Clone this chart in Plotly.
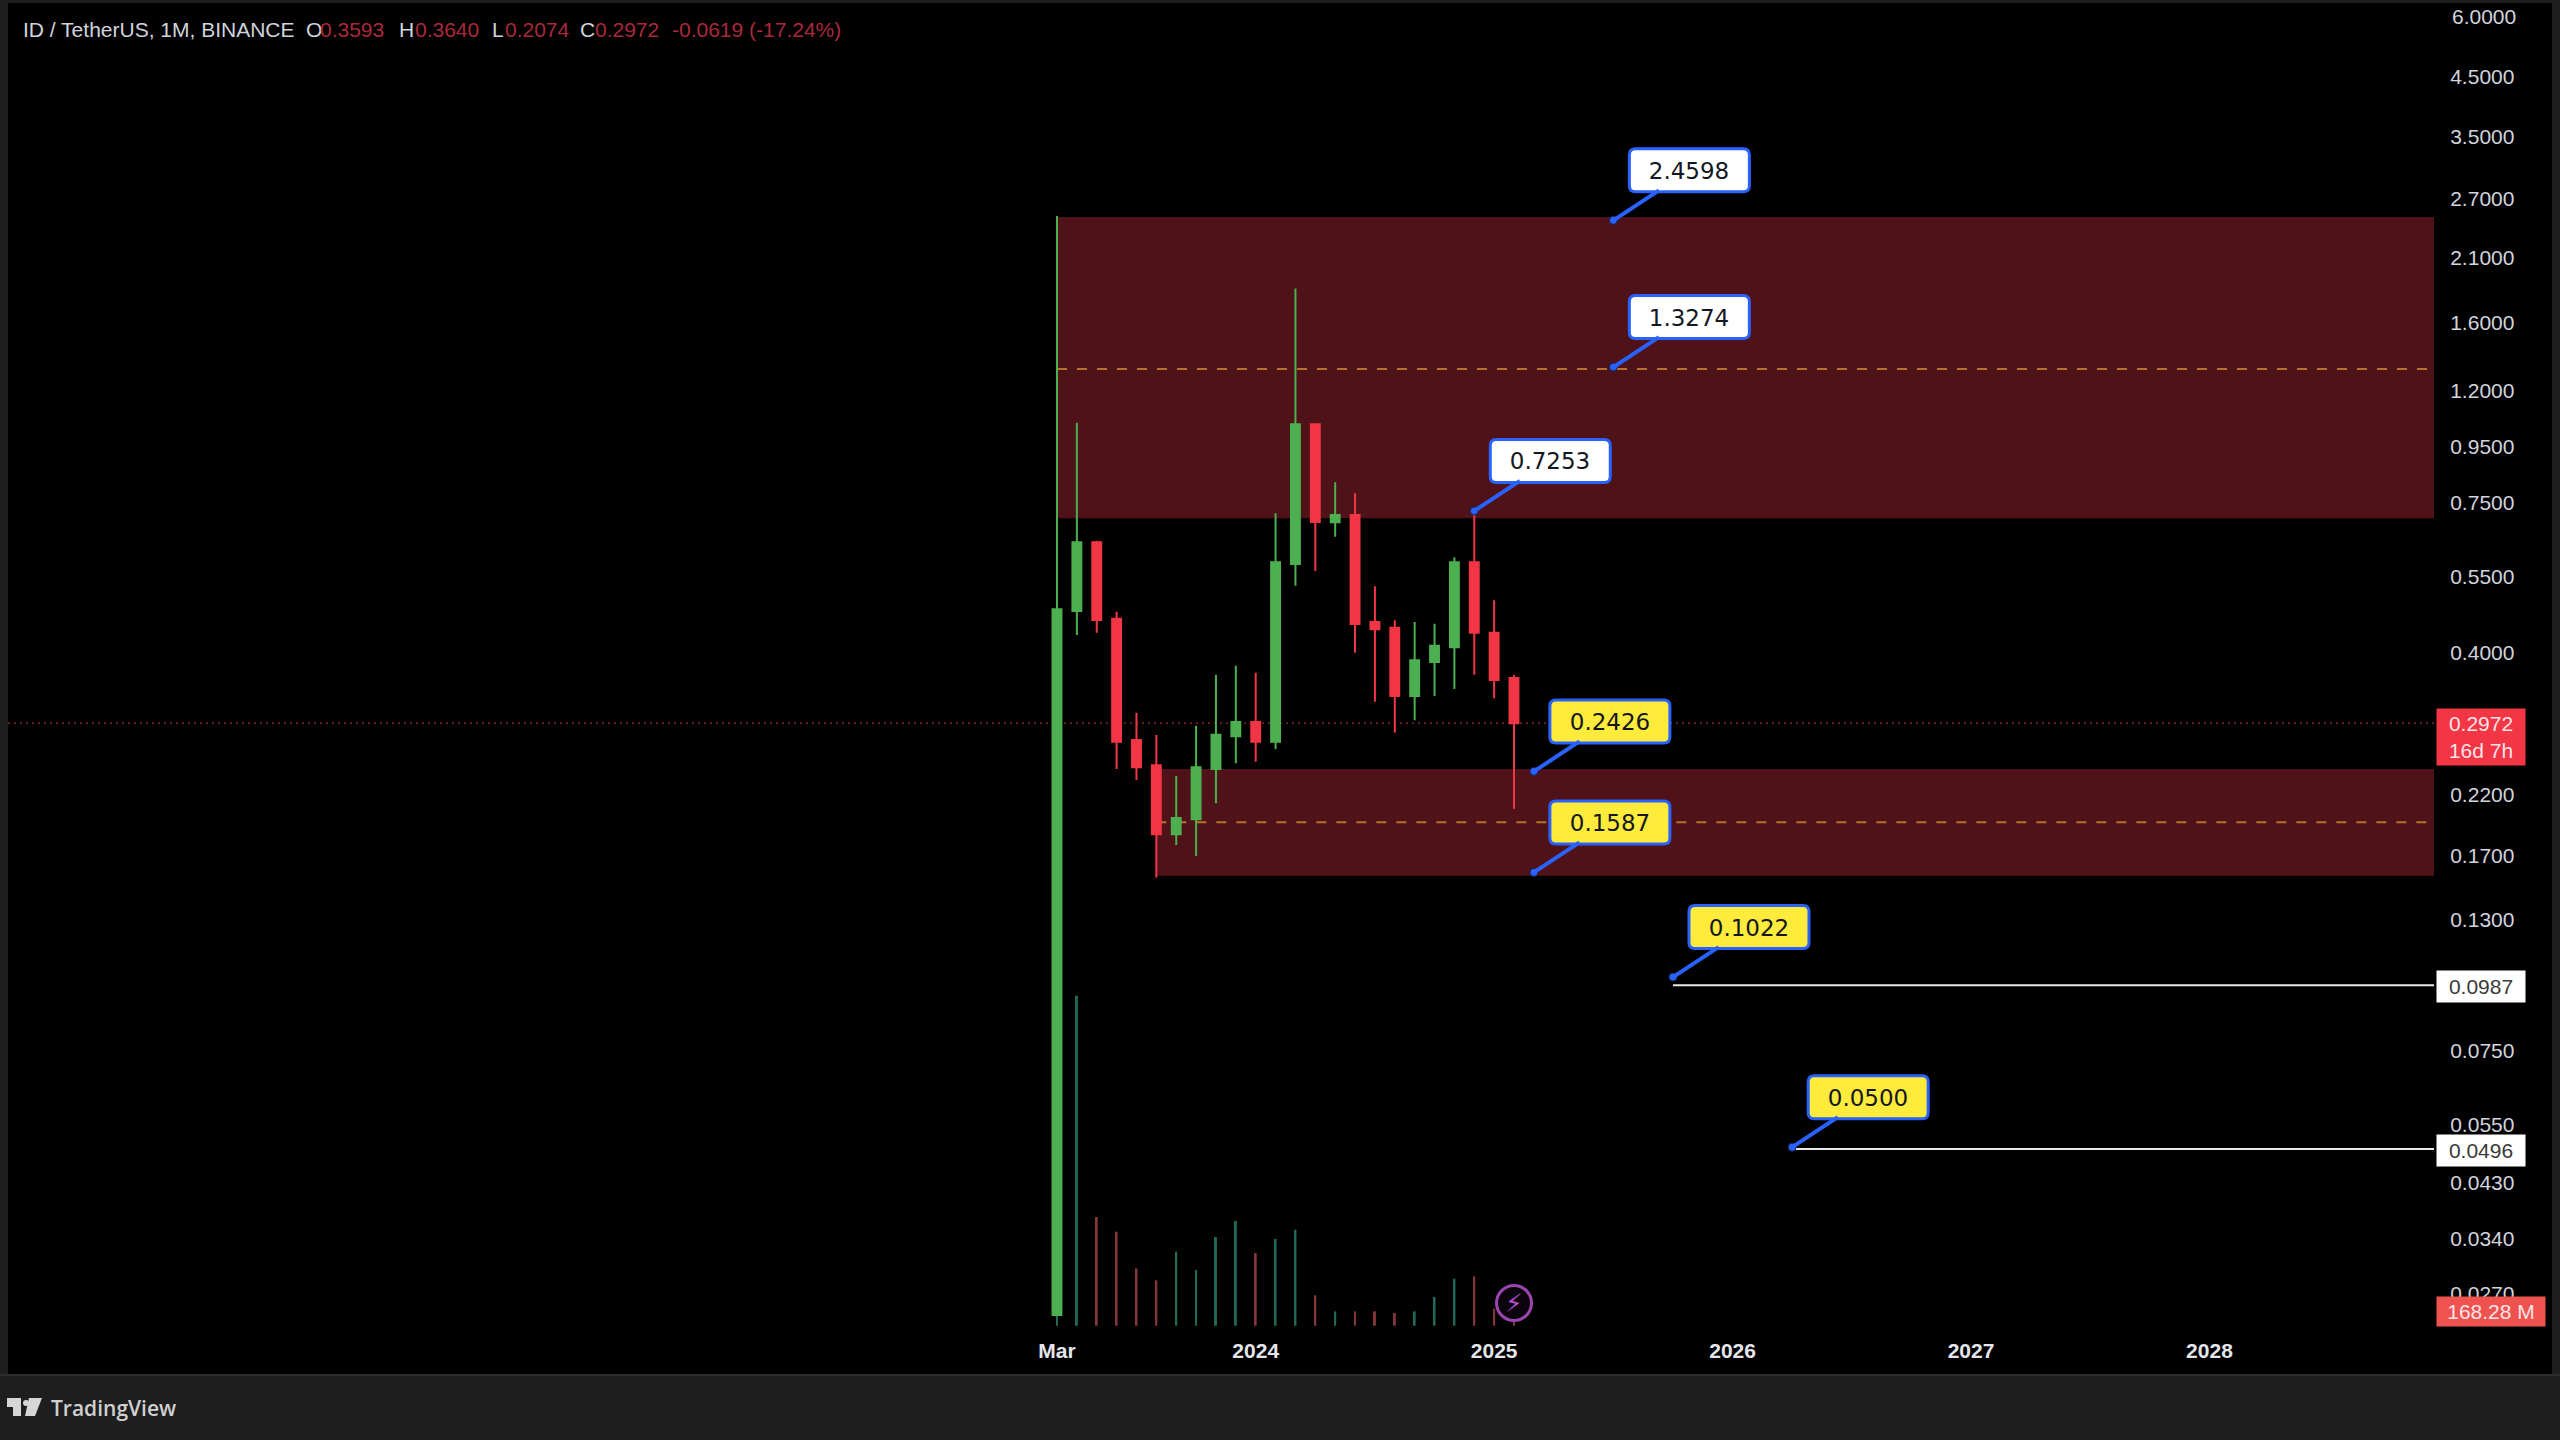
import math
import plotly.graph_objects as go

# ---------- data ----------
month_labels = ["2023-03","2023-04","2023-05","2023-06","2023-07","2023-08","2023-09","2023-10",
                "2023-11","2023-12","2024-01","2024-02","2024-03","2024-04","2024-05","2024-06",
                "2024-07","2024-08","2024-09","2024-10","2024-11","2024-12","2025-01","2025-02"]
opens  = [0.0247,0.4762,0.6356,0.4610,0.2768,0.2489,0.1863,0.1984,0.2451,0.2812,0.2986,0.2749,
          0.5802,1.0437,0.6914,0.7129,0.4547,0.4439,0.3331,0.3843,0.4088,0.5843,0.4346,0.3593]
highs  = [2.5050,1.0510,0.6399,0.4747,0.3105,0.2827,0.2380,0.2940,0.3643,0.3784,0.3674,0.7180,
          1.8480,1.0437,0.8179,0.7809,0.5283,0.4579,0.4547,0.4514,0.5967,0.7253,0.4981,0.3640]
lows   = [0.0247,0.4305,0.4346,0.2451,0.2340,0.1552,0.1780,0.1700,0.2122,0.2510,0.2527,0.2666,
          0.5296,0.5633,0.6507,0.3996,0.3252,0.2855,0.3008,0.3331,0.3431,0.3643,0.3299,0.2074]
closes = [0.4796,0.6356,0.4585,0.2749,0.2468,0.1863,0.1995,0.2468,0.2831,0.2986,0.2749,0.5843,
          1.0437,0.6922,0.7129,0.4508,0.4409,0.3331,0.3870,0.4115,0.5843,0.4346,0.3563,0.2972]
volumes_m = [15000,9900,3260,2820,1720,1360,2220,1670,2660,3140,2180,2600,
             2880,910,430,430,430,380,430,860,1410,1480,510,168.28]

price_ticks = [4.5,3.5,2.7,2.1,1.6,1.2,0.95,0.75,0.55,0.4,0.22,0.17,0.13,0.075,0.055,0.043,0.034,0.027]
top_tick_text = "6.0000"
time_tick_idx = [0,10,22,34,46,58]
time_tick_text = ["Mar","2024","2025","2026","2027","2028"]

zone_upper = (0.703, 2.4947)
zone_lower = (0.1565, 0.2451)
zone_upper_start, zone_lower_start = 0, 5
mid_upper, mid_lower = 1.3168, 0.196
level_upper = 0.0987
level_lower = 0.0496
level_upper_start, level_lower_start = 31, 37
last_price = 0.2972
last_volume_label = "168.28 M"

callout_text = ["2.4598","1.3274","0.7253","0.2426","0.1587","0.1022","0.0500"]
callout_price = [2.4598,1.3274,0.7253,0.2426,0.1587,0.1022,0.0500]
callout_idx = [28,28,21,24,24,31,37]
callout_bg = ["#ffffff","#ffffff","#ffffff","#ffeb3b","#ffeb3b","#ffeb3b","#ffeb3b"]

header_text = ["ID / TetherUS, 1M, BINANCE","O","0.3593","H","0.3640","L","0.2074","C","0.2972","-0.0619 (-17.24%)"]
header_x = [21,304,318,397,413,490,503,578,593,670]
header_red = [False,False,True,False,True,False,True,False,True,True]

# ---------- layout geometry ----------
W, H = 2560, 1440
L, R, T, B = 8, 2434, 3, 1330
X0, DX = 1057.0, 19.87
SCALE, LN0 = 237.9, 1.8263

def px(x):  # page x -> paper
    return (x - L) / (R - L)
def py(y):  # page y -> paper
    return (B - y) / (B - T)

x_range = [(L - X0) / DX, (R - X0) / DX]
y_range = [(LN0 - B / SCALE) / math.log(10), (LN0 - T / SCALE) / math.log(10)]
vol_per_px = 30.0
vol_base_y = 1325.7
vol_range = [(vol_base_y - B) * vol_per_px, (vol_base_y - T) * vol_per_px]
x_end = x_range[1]

idx = list(range(len(opens)))
GREEN, RED = "#4caf50", "#f23645"
fig = go.Figure()

vol_colors = ["#1f6a58" if c >= o else "#84363b" for o, c in zip(opens, closes)]
fig.add_trace(go.Bar(x=idx, y=volumes_m, width=0.1, marker=dict(color=vol_colors, line=dict(width=0)),
                     yaxis="y", hoverinfo="skip", showlegend=False))
fig.add_trace(go.Candlestick(x=idx, open=opens, high=highs, low=lows, close=closes, yaxis="y2",
                             whiskerwidth=0, showlegend=False, hoverinfo="skip",
                             increasing=dict(line=dict(color=GREEN, width=2), fillcolor=GREEN),
                             decreasing=dict(line=dict(color=RED, width=2), fillcolor=RED)))
fig.add_trace(go.Scatter(x=callout_idx, y=callout_price, yaxis="y2", mode="markers", hoverinfo="skip",
                         showlegend=False, marker=dict(color="#2962ff", size=8, line=dict(color="#13244f", width=1))))
fig.add_trace(go.Scatter(x=[23], y=[0.02597], yaxis="y2", mode="markers", hoverinfo="skip", showlegend=False,
                         marker=dict(color="#0b040d", size=35, line=dict(color="#9a45b0", width=3))))

shapes = [
    dict(type="rect", xref="paper", yref="paper", x0=px(8), x1=px(2552), y0=py(1374), y1=py(3),
         fillcolor="#000000", line_width=0, layer="below"),
    dict(type="line", xref="paper", yref="paper", x0=px(0), x1=px(2560), y0=py(1375), y1=py(1375),
         line=dict(color="#2e2e2e", width=2), layer="below"),
    dict(type="rect", xref="x", yref="y2", x0=zone_upper_start, x1=x_end, y0=zone_upper[0], y1=zone_upper[1],
         fillcolor="#4f1218", line_width=0, layer="below"),
    dict(type="rect", xref="x", yref="y2", x0=zone_lower_start, x1=x_end, y0=zone_lower[0], y1=zone_lower[1],
         fillcolor="#4f1218", line_width=0, layer="below"),
    dict(type="line", xref="x", yref="y2", x0=zone_upper_start, x1=x_end, y0=mid_upper, y1=mid_upper,
         line=dict(color="#b5722f", width=2, dash="10px,10px"), layer="below"),
    dict(type="line", xref="x", yref="y2", x0=zone_lower_start, x1=x_end, y0=mid_lower, y1=mid_lower,
         line=dict(color="#b5722f", width=2, dash="10px,10px"), layer="below"),
    dict(type="line", xref="x", yref="y2", x0=x_range[0], x1=x_end, y0=last_price, y1=last_price,
         line=dict(color="#a82a3c", width=1.2, dash="2px,4px"), layer="below"),
    dict(type="line", xref="x", yref="y2", x0=level_upper_start, x1=x_end, y0=level_upper, y1=level_upper,
         line=dict(color="#e8e8e8", width=2), layer="below"),
    dict(type="line", xref="x", yref="y2", x0=level_lower_start, x1=x_end, y0=level_lower, y1=level_lower,
         line=dict(color="#e8e8e8", width=2), layer="below"),
]

def poly(points):
    return "M " + " L ".join(f"{px(a)},{py(b)}" for a, b in points) + " Z"
LOGO = "#d6d6d6"
for pts in ([(7,1398),(21,1398),(21,1416),(13,1416),(13,1407),(7,1407)],
            [(29,1398),(42,1398),(35,1416),(25,1416)]):
    shapes.append(dict(type="path", xref="paper", yref="paper", path=poly(pts), fillcolor=LOGO, line_width=0))
shapes.append(dict(type="circle", xref="paper", yref="paper", x0=px(23), x1=px(29), y0=py(1406), y1=py(1400),
                   fillcolor=LOGO, line_width=0))

def rounded(cx, cy, hw, hh, r):
    a, b, c, d = cx - hw, cx + hw, cy - hh, cy + hh
    return (f"M {a+r},{c} L {b-r},{c} Q {b},{c} {b},{c+r} L {b},{d-r} Q {b},{d} {b-r},{d} "
            f"L {a+r},{d} Q {a},{d} {a},{d-r} L {a},{c+r} Q {a},{c} {a+r},{c} Z")

ann = []
for t, p, i, bg in zip(callout_text, callout_price, callout_idx, callout_bg):
    shapes.append(dict(type="path", xref="x", yref="y2", xsizemode="pixel", ysizemode="pixel",
                       xanchor=i, yanchor=p, path=rounded(76, 50, 60, 21.5, 6),
                       fillcolor=bg, line=dict(color="#2962ff", width=3), layer="above"))
    ann.append(dict(xref="x", yref="y2", x=i, y=math.log10(p), ax=76, ay=-50, text=t,
                    font=dict(family="DejaVu Sans", size=23, color="#131722"),
                    borderpad=0, width=116, height=39,
                    showarrow=True, arrowhead=0, arrowwidth=4, arrowcolor="#2962ff", standoff=0))

for t, x, red in zip(header_text, header_x, header_red):
    ann.append(dict(xref="paper", yref="paper", x=px(x), y=py(30), xanchor="left", yanchor="middle", text=t,
                    showarrow=False, font=dict(family="Liberation Sans", size=21,
                                               color="#a9293c" if red else "#d1d4dc")))

def tag(text, price, bg, fg, h, yshift=0):
    ann.append(dict(xref="paper", yref="y2", x=px(2436), y=math.log10(price), xanchor="left", yanchor="middle",
                    yshift=yshift, text=text, showarrow=False, bgcolor=bg, width=88, height=h, borderpad=0,
                    font=dict(family="Liberation Sans", size=21, color=fg)))
tag("0.2972<br>16d 7h", last_price, "#f23645", "#fde3e6", 56, -14)
tag("0.0987", level_upper, "#ffffff", "#3a3a3a", 31, -1)
tag("0.0496", level_lower, "#ffffff", "#3a3a3a", 31, -1)
ann.append(dict(xref="paper", yref="paper", x=px(2436), y=py(1311.5), xanchor="left", yanchor="middle",
                text=last_volume_label, showarrow=False, bgcolor="#ef5350", width=108, height=29, borderpad=0,
                font=dict(family="Liberation Sans", size=21, color="#fde3e6")))
ann.append(dict(xref="paper", yref="paper", x=px(2450), y=py(16), xanchor="left", yanchor="middle",
                text=top_tick_text, showarrow=False,
                font=dict(family="Liberation Sans", size=21, color="#d1d4dc")))
ann.append(dict(xref="x", yref="y2", x=23, y=math.log10(0.02597), text="⚡", showarrow=False,
                font=dict(family="DejaVu Sans", size=25, color="#b44fd0")))
ann.append(dict(xref="paper", yref="paper", x=px(49), y=py(1408), xanchor="left", yanchor="middle",
                text="TradingView", showarrow=False,
                font=dict(family="Open Sans", size=21, color="#d0d0d0", weight=600)))

fig.update_layout(
    width=W, height=H, autosize=False,
    margin=dict(l=L, r=W - R, t=T, b=H - B, pad=0),
    paper_bgcolor="#1e1e1e", plot_bgcolor="#000000",
    boxgap=0.36, showlegend=False, shapes=shapes, annotations=ann,
    xaxis=dict(range=x_range, showgrid=False, zeroline=False, showline=False, rangeslider=dict(visible=False),
               tickmode="array", tickvals=time_tick_idx, ticktext=time_tick_text,
               ticks="outside", ticklen=2, tickcolor="rgba(0,0,0,0)",
               tickfont=dict(family="Liberation Sans", size=21, color="#e4e6ec", weight=700)),
    yaxis=dict(range=vol_range, visible=False, showgrid=False, zeroline=False),
    yaxis2=dict(type="log", range=y_range, overlaying="y", side="right", showgrid=False, zeroline=False,
                showline=False, tickmode="array", tickvals=price_ticks,
                ticktext=[f"{v:.4f}" for v in price_ticks], ticks="outside", ticklen=11,
                tickcolor="rgba(0,0,0,0)", tickfont=dict(family="Liberation Sans", size=21, color="#d1d4dc")),
)

fig.write_html("out.html", config=dict(displayModeBar=False),
               post_script="document.body.style.margin='0';document.body.style.background='#1e1e1e';")
